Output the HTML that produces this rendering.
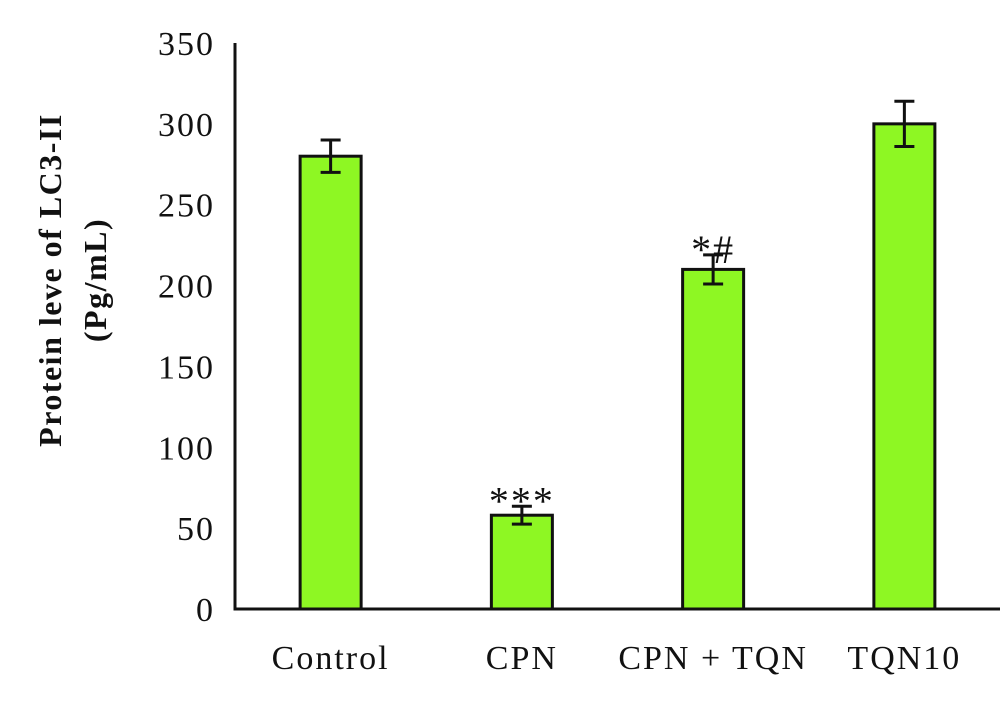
<!DOCTYPE html>
<html><head><meta charset="utf-8"><style>
body{margin:0;background:#fff}
text{font-family:"Liberation Serif","DejaVu Serif",serif;fill:#111}
</style></head><body>
<svg width="1000" height="697" viewBox="0 0 1000 697">
<g id="g"></g>
</svg>
<script>
const categories=["Control","CPN","CPN + TQN","TQN10"];
const values=[280,58,210,300];
const errors=[10,5.5,9,14];
const annotations=["","***","*#",""];
const ticks=[0,50,100,150,200,250,300,350];
const x0=235,x1=1000,y0=609,yTop=43,yMax=350;
const y=v=>y0-(v/yMax)*(y0-yTop);
const band=(x1-x0)/categories.length;
const cx=i=>x0+band*(i+0.5);
const ns="http://www.w3.org/2000/svg",g=document.getElementById('g');
function mk(t,a,txt){const e=document.createElementNS(ns,t);for(const k in a)e.setAttribute(k,a[k]);if(txt!==undefined)e.textContent=txt;g.appendChild(e);return e;}
ticks.forEach(t=>{const e=mk('text',{x:215,y:y(t)+12,'text-anchor':'end','font-size':34,'letter-spacing':2},String(t));

});
categories.forEach((c,i)=>{
const bw=61,top=y(values[i]);
const r=mk('rect',{x:cx(i)-bw/2,y:top,width:bw,height:y0-top,fill:'#8ef723',stroke:'#111','stroke-width':3});


const e1=y(values[i]+errors[i]),e2=y(values[i]-errors[i]);
const eb=mk('path',{d:`M${cx(i)-10},${e1}H${cx(i)+10}M${cx(i)},${e1}V${e2}M${cx(i)-10},${e2}H${cx(i)+10}`,stroke:'#111','stroke-width':3,fill:'none'});


const l=mk('text',{x:cx(i),y:669,'text-anchor':'middle','font-size':34,'letter-spacing':2},c);


if(annotations[i]){const a=mk('text',{x:cx(i),y:e1+8,'text-anchor':'middle','font-size':40,'letter-spacing':2},annotations[i]);

}
});
const ax=mk('path',{d:`M${x0},${yTop}V${y0}H${x1}`,stroke:'#111','stroke-width':3,fill:'none'});


const t=mk('text',{transform:'translate(61,280) rotate(-90)','text-anchor':'middle','font-size':32,'font-weight':'bold','letter-spacing':1.5});


const s1=document.createElementNS(ns,'tspan');s1.setAttribute('x',0);s1.setAttribute('y',0);s1.textContent='Protein leve of LC3-II';t.appendChild(s1);
const s2=document.createElementNS(ns,'tspan');s2.setAttribute('x',0);s2.setAttribute('y',45);s2.textContent='(Pg/mL)';t.appendChild(s2);
</script>
</body></html>
